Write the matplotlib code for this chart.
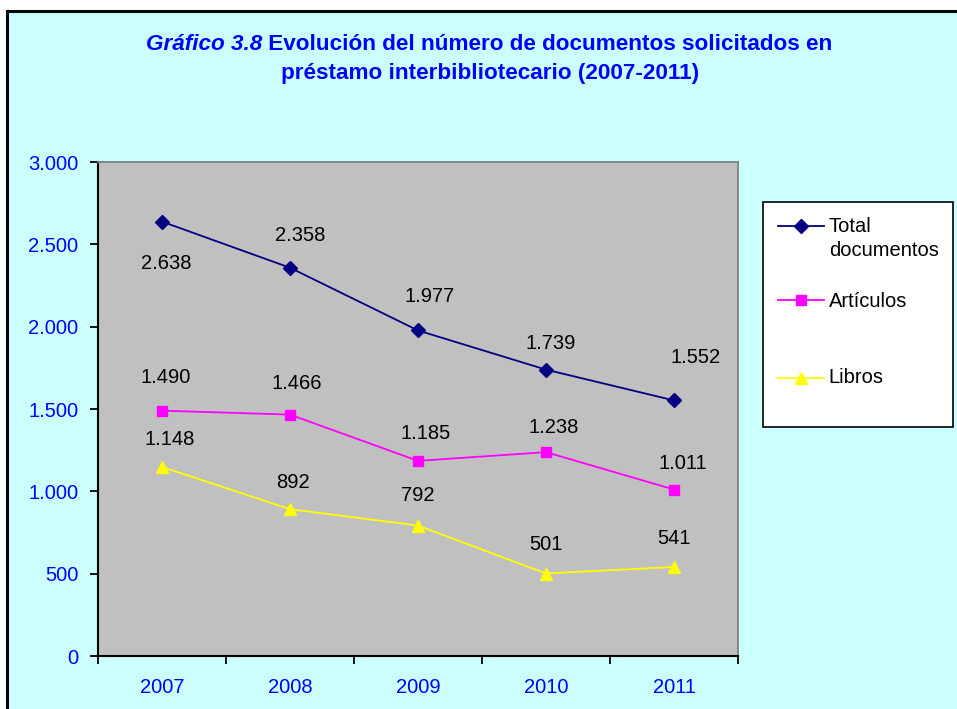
import matplotlib
matplotlib.use("Agg")
import matplotlib.pyplot as plt
from matplotlib.patches import Rectangle

# ---- data ----
years = ["2007", "2008", "2009", "2010", "2011"]
total_docs = [2638, 2358, 1977, 1739, 1552]
articulos = [1490, 1466, 1185, 1238, 1011]
libros = [1148, 892, 792, 501, 541]
series_names = ["Total\ndocumentos", "Artículos", "\nLibros\n"]
y_ticks = [0, 500, 1000, 1500, 2000, 2500, 3000]
title_italic = "Gráfico 3.8"
title_rest = " Evolución del número de documentos solicitados en"
title_line2 = "préstamo interbibliotecario (2007-2011)"

# ---- styles ----
BLUE = "#0000FF"
FS = 14.5
colors = ["#000080", "#FF00FF", "#FFFF00"]
markers = ["D", "s", "^"]
msizes = [6.7, 7.8, 9]
# label offsets in pixels (dx, dy); dy positive = downward in image
label_offsets = [
    [(4, 42), (10, -32), (12, -34), (5, -26), (22, -43)],
    [(4, -33), (7, -31), (8, -27), (8, -25), (9, -26)],
    [(8, -27), (3, -27), (0, -30), (0, -29), (0, -28)],
]

plt.rcParams["font.family"] = ["Liberation Sans", "DejaVu Sans"]

W, H = 957, 709
fig = plt.figure(figsize=(W / 100, H / 100), dpi=100, facecolor="white")

# chart-area background with black border (extends past right/bottom edges)
bg = Rectangle((6.5 / W, -0.1), 2.0, (H - 10.5) / H + 0.1,
               transform=fig.transFigure, facecolor="#CCFFFF",
               edgecolor="black", linewidth=2.2, zorder=-10)
fig.patches.append(bg)

ax = fig.add_axes([98 / W, 1 - 656 / H, (738 - 98) / W, (656 - 162) / H])
ax.set_zorder(1)
ax.set_facecolor("#C0C0C0")

x = list(range(len(years)))
all_series = [total_docs, articulos, libros]
for vals, col, mk, ms, name, offs in zip(all_series, colors, markers, msizes,
                                         series_names, label_offsets):
    ax.plot(x, vals, color=col, marker=mk, markersize=ms, markerfacecolor=col,
            markeredgecolor=col, linewidth=1.3, label=name, zorder=3)
    for xi, v, (dx, dy) in zip(x, vals, offs):
        ax.annotate(f"{v:,}".replace(",", "."), (xi, v),
                    xytext=(dx * 0.72, -dy * 0.72), textcoords="offset points",
                    ha="center", va="center", fontsize=FS, color="black",
                    zorder=4)

ax.set_xlim(-0.5, len(years) - 0.5)
ax.set_ylim(0, 3000)
ax.set_yticks(y_ticks)
ax.set_yticklabels([f"{t:,}".replace(",", ".") for t in y_ticks])
ax.set_xticks(x)
ax.set_xticklabels(years)
ax.set_xticks([i - 0.5 for i in range(len(years) + 1)], minor=True)
ax.tick_params(axis="x", which="major", length=0, pad=16, labelsize=FS,
               labelcolor=BLUE)
ax.tick_params(axis="x", which="minor", length=6, width=1.3, direction="out",
               color="black")
ax.tick_params(axis="y", which="major", length=6, width=1.3, direction="out",
               pad=8, labelsize=FS, labelcolor=BLUE, color="black")
for side in ["top", "right"]:
    ax.spines[side].set_color("#808080")
    ax.spines[side].set_linewidth(1.3)
for side in ["left", "bottom"]:
    ax.spines[side].set_color("black")
    ax.spines[side].set_linewidth(1.5)

LS = 1.38
leg = ax.legend(loc="upper left", bbox_to_anchor=(763 / W, 1 - 202 / H),
                bbox_transform=fig.transFigure, frameon=True, fancybox=False,
                framealpha=1, facecolor="white", edgecolor="black",
                fontsize=FS, handlelength=2.3, handletextpad=0.25,
                labelspacing=1.6, borderpad=0.72, borderaxespad=0)
leg.get_frame().set_linewidth(1.2)
for t in leg.get_texts():
    t.set_linespacing(LS)
fig.canvas.draw()
# put the first handle level with the first text line
h0 = leg.legend_handles[0]
h0.set_ydata([yy + 0.5 * 1.29 * FS for yy in h0.get_ydata()])

# ---- title ----
TFS = 16.2
r = fig.canvas.get_renderer()
t1 = fig.text(0, 1 - 44 / H, title_italic, fontsize=TFS, fontweight="bold",
              style="italic", color=BLUE, va="center", ha="left")
t2 = fig.text(0, 1 - 44 / H, title_rest, fontsize=TFS, fontweight="bold",
              color=BLUE, va="center", ha="left")
w1 = t1.get_window_extent(r).width
w2 = t2.get_window_extent(r).width
x0 = 489 - (w1 + w2) / 2
t1.set_x(x0 / W)
t2.set_x((x0 + w1) / W)
fig.text(490 / W, 1 - 74 / H, title_line2, fontsize=TFS, fontweight="bold",
         color=BLUE, va="center", ha="center")

fig.savefig("out.png", dpi=100, facecolor=fig.get_facecolor())
